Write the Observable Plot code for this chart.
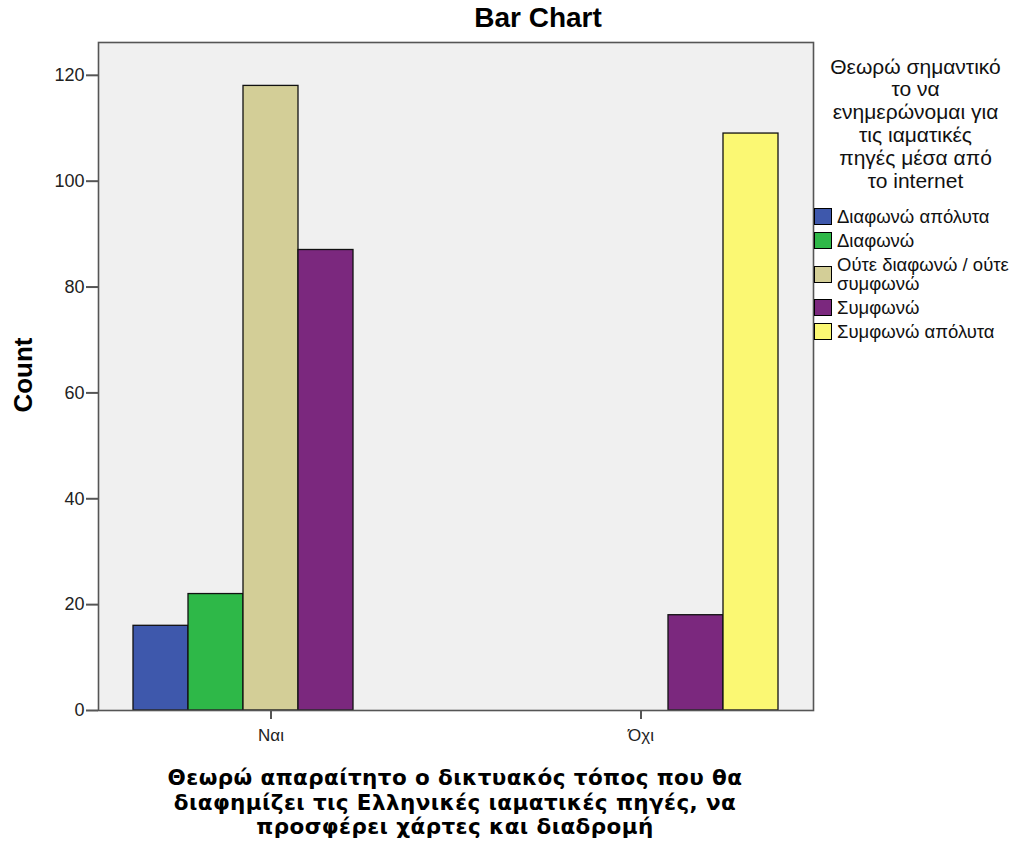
<!DOCTYPE html>
<html>
<head>
<meta charset="utf-8">
<script src="https://cdn.jsdelivr.net/npm/d3@7"></script>
<script src="https://cdn.jsdelivr.net/npm/@observablehq/plot@0.6"></script>
<style>
  html, body { margin: 0; padding: 0; background: #fff; }
  body { font-family: "Liberation Sans", Arial, sans-serif; }
  #wrap { position: relative; width: 1018px; height: 847px; overflow: hidden; }
  #chart svg { display: block; }
  .title { position: absolute; left: 388px; width: 300px; top: 2px; text-align: center; font-weight: bold; font-size: 28px; line-height: 32px; }
  .xtitle { position: absolute; left: 55px; width: 800px; top: 766px; text-align: center; font-family: "DejaVu Sans", sans-serif; font-weight: bold; font-size: 21.5px; letter-spacing: 0.4px; line-height: 24.5px; color: #000; }
  .ytitle { position: absolute; left: 23px; top: 375px; transform: translate(-50%, -50%) rotate(-90deg); font-weight: bold; font-size: 26px; white-space: nowrap; }
  .legend { position: absolute; left: 814px; top: 55.6px; width: 204px; color: #111; }
  .ltitle { text-align: center; font-size: 21px; line-height: 22.8px; width: 203px; }
  .litems { position: absolute; top: 149px; left: 0; font-size: 18.5px; }
  .lrow { display: flex; align-items: center; padding: 2.5px 0; }
  .sw { width: 16px; height: 15px; border: 1px solid #000; flex: none; margin-right: 5px; }
  .lt { line-height: 19px; white-space: nowrap; }
</style>
</head>
<body>
<div id="wrap">
  <div id="chart"></div>
  <div class="title" id="title"></div>
  <div class="xtitle" id="xtitle"></div>
  <div class="ytitle" id="ytitle"></div>
  <div class="legend" id="legend"></div>
</div>
<script>
const chartTitle = "Bar Chart";
const yLabel = "Count";
const xTitleLines = ["Θεωρώ απαραίτητο ο δικτυακός τόπος που θα", "διαφημίζει τις Ελληνικές ιαματικές πηγές, να", "προσφέρει χάρτες και διαδρομή"];
const legendTitleLines = ["Θεωρώ σημαντικό", "το να", "ενημερώνομαι για", "τις ιαματικές", "πηγές μέσα από", "το internet"];
const groups = ["Ναι", "Όχι"];
const categories = ["Διαφωνώ απόλυτα", "Διαφωνώ", "Ούτε διαφωνώ / ούτε συμφωνώ", "Συμφωνώ", "Συμφωνώ απόλυτα"];
const legendLabels = ["Διαφωνώ απόλυτα", "Διαφωνώ", "Ούτε διαφωνώ / ούτε<br>συμφωνώ", "Συμφωνώ", "Συμφωνώ απόλυτα"];
const colors = ["#3e58ac", "#2eb848", "#d3ce97", "#7b287e", "#fbf873"];
const countsNai = [16, 22, 118, 87, 0];
const countsOxi = [0, 0, 0, 18, 109];
const yTicks = [0, 20, 40, 60, 80, 100, 120];

const rows = [];
categories.forEach((c, i) => {
  if (countsNai[i] > 0) rows.push({group: groups[0], cat: c, count: countsNai[i]});
  if (countsOxi[i] > 0) rows.push({group: groups[1], cat: c, count: countsOxi[i]});
});

const font = '"Liberation Sans", Arial, sans-serif';

const chart = Plot.plot({
  width: 1018,
  height: 847,
  marginLeft: 98,
  marginRight: 205,
  marginTop: 42,
  marginBottom: 137,
  style: {fontFamily: font, background: "transparent", color: "#222"},
  fx: {domain: groups, paddingInner: 0.2568, paddingOuter: 0.0946, align: 0.5, label: null},
  x: {domain: categories, padding: 0, axis: null},
  y: {domain: [0, 126.2], label: null},
  color: {domain: categories, range: colors},
  marks: [
    Plot.frame({facet: "super", fill: "#f0f0f0", stroke: null, insetLeft: -35, insetRight: -35}),
    Plot.barY(rows, {fx: "group", x: "cat", y: "count", fill: "cat", stroke: "#111", strokeWidth: 1.3}),
    Plot.frame({facet: "super", stroke: "#555", strokeWidth: 1.6, fill: null, insetLeft: -35, insetRight: -35}),
    Plot.axisY({ticks: yTicks, dx: -35, tickSize: 12, tickPadding: 2, fontSize: 18, stroke: "#555", strokeWidth: 2, fill: "#222", label: null}),
    Plot.axisFx({anchor: "bottom", tickSize: 9, tickPadding: 9, fontSize: 17, stroke: "#555", strokeWidth: 2, fill: "#222", label: null})
  ]
});
document.getElementById("chart").appendChild(chart);

document.getElementById("title").textContent = chartTitle;
document.getElementById("ytitle").textContent = yLabel;
document.getElementById("xtitle").innerHTML = xTitleLines.join("<br>");
const lg = document.getElementById("legend");
lg.innerHTML = `<div class="ltitle">${legendTitleLines.join("<br>")}</div>` +
  `<div class="litems">` + categories.map((c, i) =>
    `<div class="lrow"><span class="sw" style="background:${colors[i]}"></span><span class="lt">${legendLabels[i]}</span></div>`).join("") + `</div>`;
</script>
</body>
</html>
